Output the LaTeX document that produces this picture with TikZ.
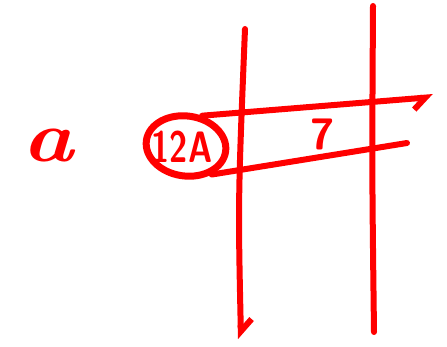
\documentclass[tikz,border=0pt]{standalone}
\usepackage{tikz}
\usepackage{xcolor}
\usetikzlibrary{shapes.geometric, arrows.meta, positioning, calc}
\definecolor{cInk}{RGB}{255,0,0}
\tikzset{
	pen/.style      ={draw=cInk, line width=6pt, line cap=round, line join=round},
	penarrow/.style ={pen, -{Straight Barb[right, length=12pt, width=22pt, line width=6pt]}},
	penarrowl/.style={pen, -{Straight Barb[left, length=12pt, width=22pt, line width=6pt]}},
	ink/.style      ={text=cInk, font=\sffamily\bfseries\fontsize{44}{44}\selectfont, inner sep=0pt},
	ring/.style     ={ellipse, pen, line width=7pt, minimum width=80pt, minimum height=60pt, inner sep=0pt},
}
\begin{document}
\begin{tikzpicture}[x=1pt, y=-1pt]
			\useasboundingbox (0,0) rectangle (447,347);
			\node[ink, font=\bfseries\itshape\fontsize{72}{72}\selectfont, xscale=1.2] (row) at (48,146) {a};
			\node[ring, rotate=-8] (cell) at (186,146) {};
			\node[ink, xscale=0.75] (lbl) at (182,147) {12A};
			\node[ink] (val) at (323,134) {7};
			% band through the columns
			\coordinate (topend) at (433,97);
			\coordinate (botend) at (407,143);
			\draw[penarrow] (cell.70) -- (topend);
			\draw[pen] (cell.-40) -- (botend);
			% columns
			\coordinate (ltop) at (245,29);
			\coordinate (lbot) at (241,339);
			\coordinate (rtop) at (373,6);
			\coordinate (rbot) at (374,332);
			\draw[penarrowl] (ltop) .. controls (238,200) .. (lbot);
			\draw[pen] (rtop) .. controls (372,170) .. (rbot);
		\end{tikzpicture}
\end{document}
